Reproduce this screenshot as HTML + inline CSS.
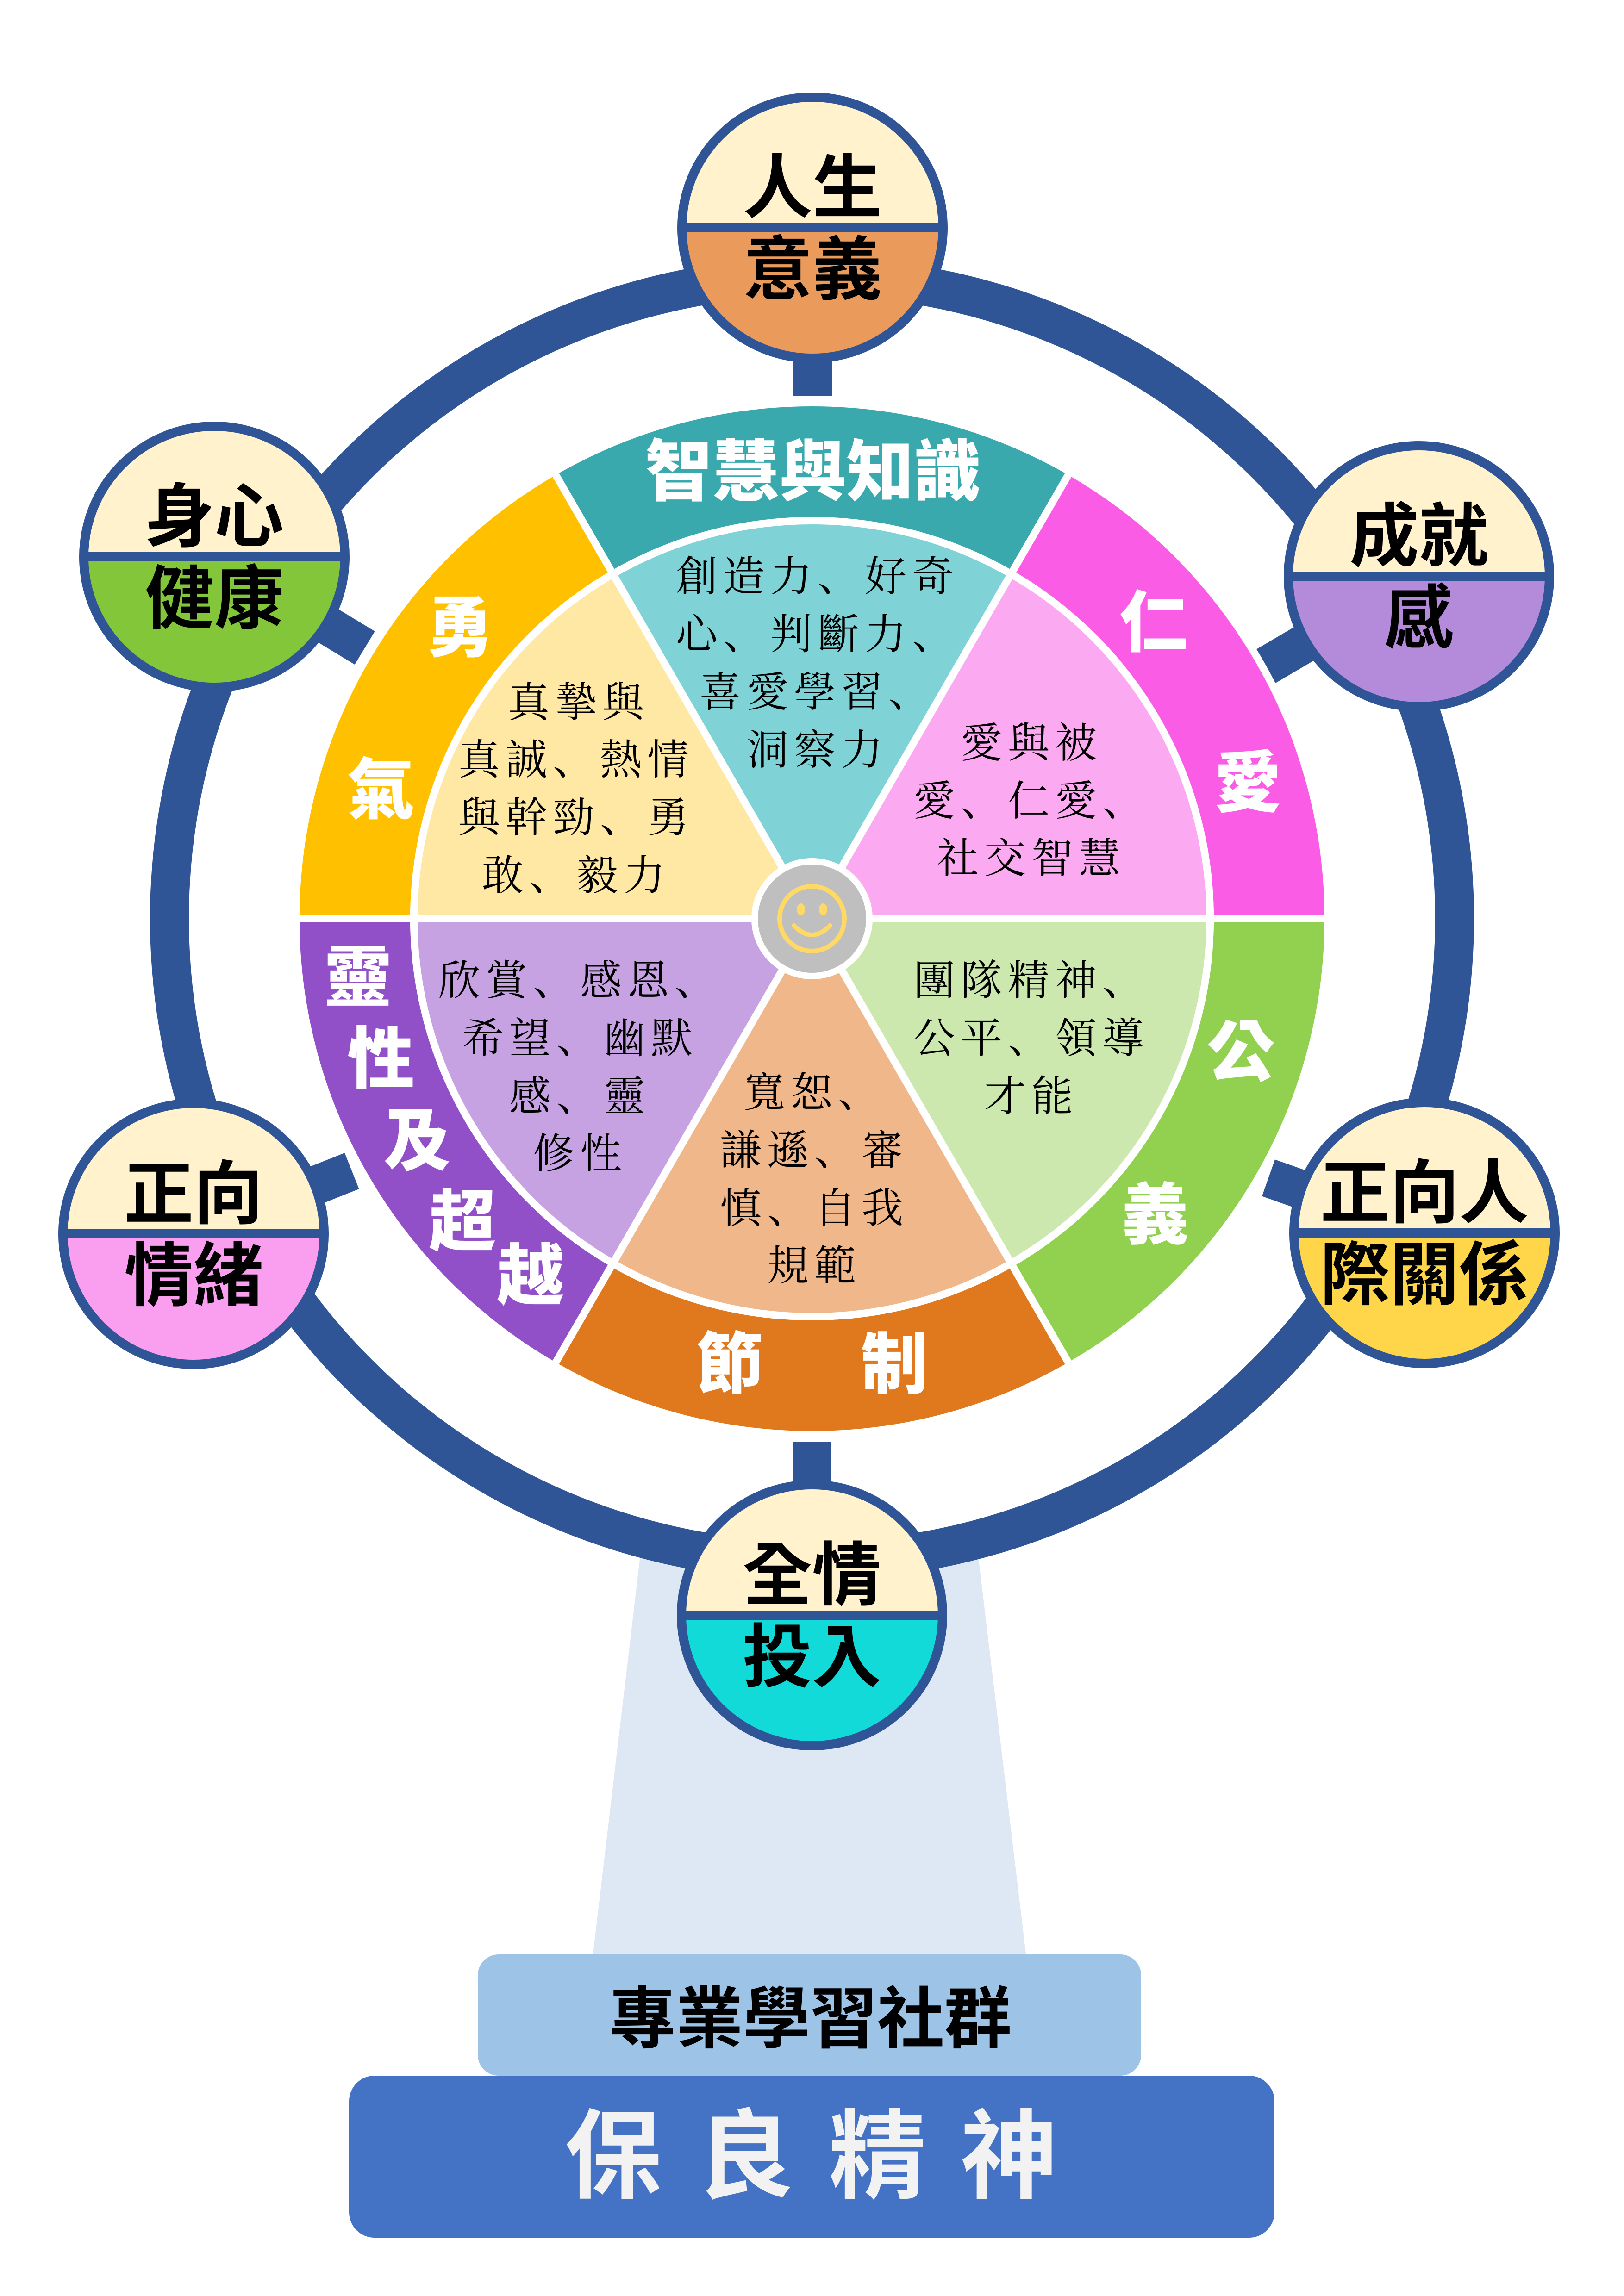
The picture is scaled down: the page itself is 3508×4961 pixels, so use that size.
<!DOCTYPE html>
<html><head><meta charset="utf-8">
<style>
html,body{margin:0;padding:0;background:#fff;}
svg{display:block;}
.nt{font-family:"Liberation Sans","Noto Sans CJK TC",sans-serif;font-weight:bold;font-size:150px;fill:#000;text-anchor:middle;dominant-baseline:central;}
.wt{font-family:"Liberation Sans","Noto Sans CJK TC",sans-serif;font-weight:900;font-size:145px;fill:#fff;text-anchor:middle;dominant-baseline:central;}
.it{font-family:"Liberation Serif","Noto Serif CJK SC","Noto Serif CJK TC",serif;font-size:90px;fill:#000;text-anchor:middle;dominant-baseline:central;letter-spacing:12px;}
</style></head><body>
<svg width="3508" height="4961" viewBox="0 0 3508 4961" xmlns="http://www.w3.org/2000/svg">
<defs>
<clipPath id="top"><rect x="0" y="0" width="3508" height="10000" transform="translate(0,0)"/></clipPath>
</defs>
<!-- beam -->
<polygon points="1383,3361 2113,3361 2217,4230 1280,4230" fill="#DEE8F4"/>
<!-- ring -->
<circle cx="1754" cy="1985" r="1388" fill="none" stroke="#2F5597" stroke-width="84"/>
<!-- stubs -->
<g stroke="#2F5597" stroke-width="84">
<line x1="1755" y1="492" x2="1755" y2="855"/>
<line x1="1754" y1="3490" x2="1754" y2="3115"/>
<line x1="463" y1="1203" x2="788" y2="1400"/>
<line x1="3065" y1="1245" x2="2725" y2="1445"/>
<line x1="418" y1="2666" x2="760" y2="2530"/>
<line x1="3077" y1="2664" x2="2740" y2="2545"/>
</g>
<!-- wheel outer sectors -->
<g stroke="#fff" stroke-width="16" stroke-linejoin="round">
<path d="M1196.5,1019.4 A1115,1115 0 0 1 2311.5,1019.4 L2184,1240.2 A860,860 0 0 0 1324,1240.2 Z" fill="#3AA9AE"/>
<path d="M2311.5,1019.4 A1115,1115 0 0 1 2869,1985 L2614,1985 A860,860 0 0 0 2184,1240.2 Z" fill="#FB5CE6"/>
<path d="M2869,1985 A1115,1115 0 0 1 2311.5,2950.6 L2184,2729.8 A860,860 0 0 0 2614,1985 Z" fill="#92D050"/>
<path d="M2311.5,2950.6 A1115,1115 0 0 1 1196.5,2950.6 L1324,2729.8 A860,860 0 0 0 2184,2729.8 Z" fill="#E0781E"/>
<path d="M1196.5,2950.6 A1115,1115 0 0 1 639,1985 L894,1985 A860,860 0 0 0 1324,2729.8 Z" fill="#9150C8"/>
<path d="M639,1985 A1115,1115 0 0 1 1196.5,1019.4 L1324,1240.2 A860,860 0 0 0 894,1985 Z" fill="#FFC000"/>
<!-- inner -->
<path d="M1754,1985 L1324,1240.2 A860,860 0 0 1 2184,1240.2 Z" fill="#7FD3D6"/>
<path d="M1754,1985 L2184,1240.2 A860,860 0 0 1 2614,1985 Z" fill="#FBA9F0"/>
<path d="M1754,1985 L2614,1985 A860,860 0 0 1 2184,2729.8 Z" fill="#CDE8AE"/>
<path d="M1754,1985 L2184,2729.8 A860,860 0 0 1 1324,2729.8 Z" fill="#F0B88A"/>
<path d="M1754,1985 L1324,2729.8 A860,860 0 0 1 894,1985 Z" fill="#C6A2E2"/>
<path d="M1754,1985 L894,1985 A860,860 0 0 1 1324,1240.2 Z" fill="#FFE8A4"/>
</g>
<!-- smiley -->
<circle cx="1754" cy="1985" r="124" fill="#BFBFBF" stroke="#fff" stroke-width="14"/>
<circle cx="1754" cy="1985" r="70" fill="none" stroke="#FFD966" stroke-width="10"/>
<ellipse cx="1730" cy="1965" rx="9" ry="13" fill="#FFD966"/>
<ellipse cx="1778" cy="1965" rx="9" ry="13" fill="#FFD966"/>
<path d="M1715,2000 Q1754,2040 1793,2000" fill="none" stroke="#FFD966" stroke-width="10" stroke-linecap="round"/>
<!-- wheel labels -->
<text class="wt" x="1756" y="1020">智慧與知識</text>
<text class="wt" x="993" y="1357">勇</text>
<text class="wt" x="823" y="1707">氣</text>
<text class="wt" x="2492" y="1346">仁</text>
<text class="wt" x="2695" y="1692">愛</text>
<text class="wt" x="2680" y="2274">公</text>
<text class="wt" x="2495" y="2626">義</text>
<text class="wt" x="1576" y="2949">節</text>
<text class="wt" x="1932" y="2949">制</text>
<text class="wt" x="773" y="2113">靈</text>
<text class="wt" x="823" y="2289">性</text>
<text class="wt" x="901" y="2465">及</text>
<text class="wt" x="999" y="2641">超</text>
<text class="wt" x="1146" y="2758">越</text>
<!-- inner text -->
<g class="it">
<text class="it" x="1766" y="1247">創造力、好奇</text>
<text class="it" x="1766" y="1372">心、判斷力、</text>
<text class="it" x="1766" y="1497">喜愛學習、</text>
<text class="it" x="1766" y="1622">洞察力</text>
<text class="it" x="1250" y="1519">真摯與</text>
<text class="it" x="1245" y="1643">真誠、熱情</text>
<text class="it" x="1245" y="1768">與幹勁、勇</text>
<text class="it" x="1245" y="1893">敢、毅力</text>
<text class="it" x="2228" y="1607">愛與被</text>
<text class="it" x="2228" y="1732">愛、仁愛、</text>
<text class="it" x="2228" y="1856">社交智慧</text>
<text class="it" x="1253" y="2120">欣賞、感恩、</text>
<text class="it" x="1253" y="2245">希望、幽默</text>
<text class="it" x="1253" y="2370">感、靈</text>
<text class="it" x="1253" y="2494">修性</text>
<text class="it" x="1759" y="2362">寬恕、</text>
<text class="it" x="1759" y="2487">謙遜、審</text>
<text class="it" x="1759" y="2612">慎、自我</text>
<text class="it" x="1759" y="2736">規範</text>
<text class="it" x="2228" y="2120">團隊精神、</text>
<text class="it" x="2228" y="2245">公平、領導</text>
<text class="it" x="2228" y="2370">才能</text>
</g>
<!-- nodes -->
<g id="nodes">
<!-- top -->
<g transform="translate(1755,492)">
<path d="M-282,0 A282,282 0 0 1 282,0 Z" fill="#FFF2CC"/>
<path d="M-282,0 A282,282 0 0 0 282,0 Z" fill="#EA9B5B"/>
<circle r="282" fill="none" stroke="#2F5597" stroke-width="20"/>
<line x1="-282" y1="0" x2="282" y2="0" stroke="#2F5597" stroke-width="20"/>
<text class="nt" y="-86">人生</text><text class="nt" y="91">意義</text>
</g>
<g transform="translate(463,1203)">
<path d="M-282,0 A282,282 0 0 1 282,0 Z" fill="#FFF2CC"/>
<path d="M-282,0 A282,282 0 0 0 282,0 Z" fill="#84C639"/>
<circle r="282" fill="none" stroke="#2F5597" stroke-width="20"/>
<line x1="-282" y1="0" x2="282" y2="0" stroke="#2F5597" stroke-width="20"/>
<text class="nt" y="-86">身心</text><text class="nt" y="91">健康</text>
</g>
<g transform="translate(3065,1245)">
<path d="M-282,0 A282,282 0 0 1 282,0 Z" fill="#FFF2CC"/>
<path d="M-282,0 A282,282 0 0 0 282,0 Z" fill="#B48ADA"/>
<circle r="282" fill="none" stroke="#2F5597" stroke-width="20"/>
<line x1="-282" y1="0" x2="282" y2="0" stroke="#2F5597" stroke-width="20"/>
<text class="nt" y="-86">成就</text><text class="nt" y="91">感</text>
</g>
<g transform="translate(418,2666)">
<path d="M-282,0 A282,282 0 0 1 282,0 Z" fill="#FFF2CC"/>
<path d="M-282,0 A282,282 0 0 0 282,0 Z" fill="#FA9EEF"/>
<circle r="282" fill="none" stroke="#2F5597" stroke-width="20"/>
<line x1="-282" y1="0" x2="282" y2="0" stroke="#2F5597" stroke-width="20"/>
<text class="nt" y="-86">正向</text><text class="nt" y="91">情緒</text>
</g>
<g transform="translate(3077,2664)">
<path d="M-282,0 A282,282 0 0 1 282,0 Z" fill="#FFF2CC"/>
<path d="M-282,0 A282,282 0 0 0 282,0 Z" fill="#FFD54A"/>
<circle r="282" fill="none" stroke="#2F5597" stroke-width="20"/>
<line x1="-282" y1="0" x2="282" y2="0" stroke="#2F5597" stroke-width="20"/>
<text class="nt" y="-86">正向人</text><text class="nt" y="91">際關係</text>
</g>
<g transform="translate(1754,3490)">
<path d="M-282,0 A282,282 0 0 1 282,0 Z" fill="#FFF2CC"/>
<path d="M-282,0 A282,282 0 0 0 282,0 Z" fill="#12DAD9"/>
<circle r="282" fill="none" stroke="#2F5597" stroke-width="20"/>
<line x1="-282" y1="0" x2="282" y2="0" stroke="#2F5597" stroke-width="20"/>
<text class="nt" y="-86">全情</text><text class="nt" y="91">投入</text>
</g>
</g>
<!-- bottom boxes -->
<rect x="1032" y="4223" width="1433" height="262" rx="45" fill="#9DC3E6"/>
<text class="nt" x="1750" y="4363" style="font-size:145px">專業學習社群</text>
<rect x="754" y="4485" width="1999" height="350" rx="55" fill="#4472C4"/>
<text x="1790" y="4660" style="font-family:'Liberation Sans','Noto Sans CJK TC',sans-serif;font-weight:bold;font-size:210px;fill:#F2F2F2;text-anchor:middle;dominant-baseline:central;letter-spacing:75px">保良精神</text>
</svg>
</body></html>
